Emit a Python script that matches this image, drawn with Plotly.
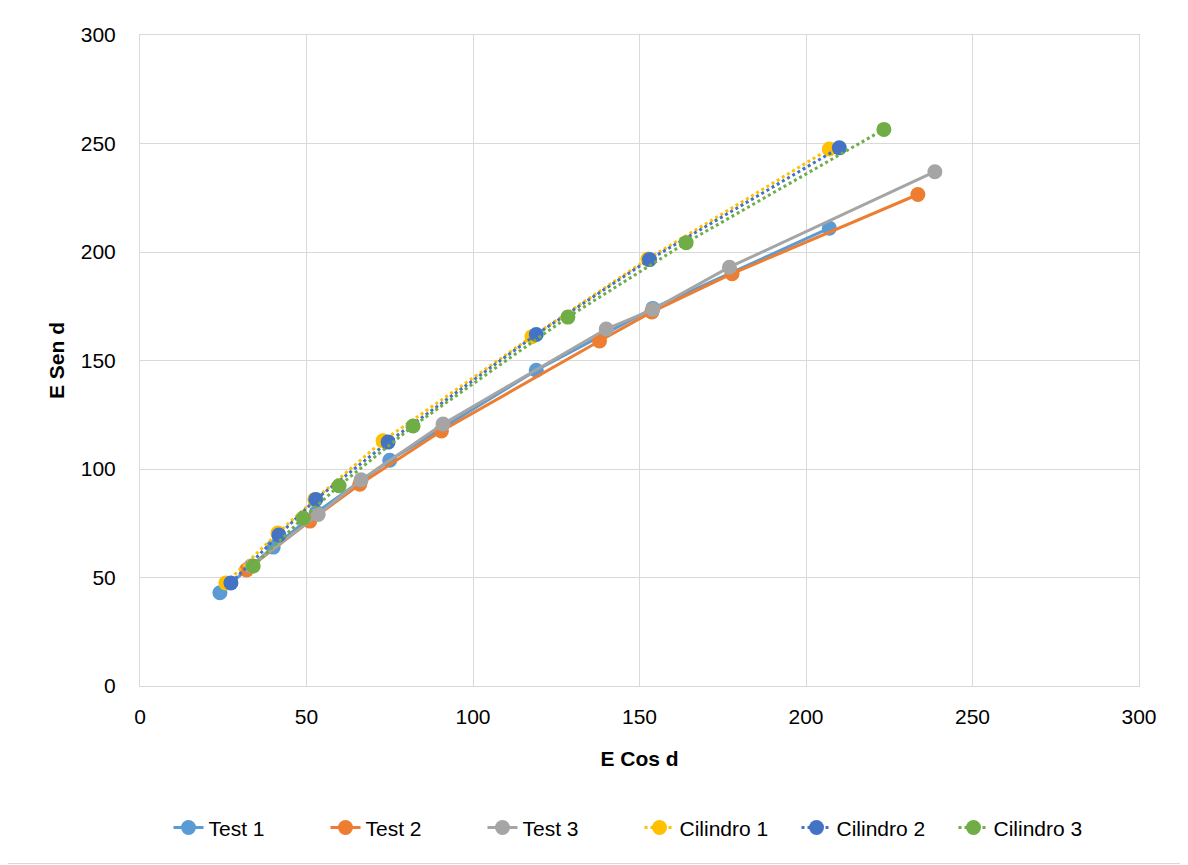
import plotly.graph_objects as go

test1_x = [24, 40, 53, 75, 119, 154, 207]
test1_y = [43, 64, 80, 104, 145.5, 174, 211]
test2_x = [32, 51, 66, 90.5, 138, 153.7, 177.8, 233.6]
test2_y = [53.5, 76, 93, 117.5, 159, 172.4, 190, 226.5]
test3_x = [33.3, 53.5, 66.4, 91, 140, 154, 177, 238.7]
test3_y = [55.3, 79, 95, 120.7, 164.5, 173.5, 193, 237]
cil1_x = [25.8, 41.4, 52.5, 73, 117.7, 152.5, 207]
cil1_y = [47.5, 70.5, 86, 113, 161, 196.8, 247.5]
cil2_x = [27.3, 41.7, 52.8, 74.5, 119, 153, 210]
cil2_y = [47.5, 69.6, 86, 112.4, 162, 196.5, 248]
cil3_x = [34, 49, 59.8, 82, 128.5, 164, 223.4]
cil3_y = [55.3, 77.4, 92.3, 119.8, 170, 204.3, 256.5]

font_fam = "Liberation Sans Narrow, Arial Narrow, Liberation Sans, Arial"

series = [
    ("Test 1", test1_x, test1_y, "#5B9BD5", "solid"),
    ("Test 2", test2_x, test2_y, "#ED7D31", "solid"),
    ("Test 3", test3_x, test3_y, "#A5A5A5", "solid"),
    ("Cilindro 1", cil1_x, cil1_y, "#FFC000", "dot"),
    ("Cilindro 2", cil2_x, cil2_y, "#4472C4", "dot"),
    ("Cilindro 3", cil3_x, cil3_y, "#70AD47", "dot"),
]

fig = go.Figure()
for name, xs, ys, col, dash in series:
    fig.add_trace(go.Scatter(
        x=xs, y=ys, name=name, mode="lines+markers",
        line=dict(color=col, width=3, dash=dash),
        marker=dict(color=col, size=15, line=dict(width=0)),
    ))

axis_common = dict(
    range=[0, 300], dtick=50, showgrid=True, gridcolor="#D9D9D9", gridwidth=1,
    showline=True, linecolor="#D9D9D9", linewidth=1, mirror=True,
    zeroline=False, ticks="", tickfont=dict(family=font_fam, size=21, color="#000000"),
)

W, H = 1180, 857
L, R, T, B = 132, 49, 27, 179
pw, ph = W - L - R, H - T - B

fig.update_layout(
    width=W, height=H,
    paper_bgcolor="white", plot_bgcolor="white",
    margin=dict(l=L, r=R, t=T, b=B),
    xaxis=dict(**axis_common, ticklabelstandoff=12,
               title=dict(text="<b>E Cos d</b>", font=dict(family=font_fam, size=21, color="#000000"), standoff=24)),
    yaxis=dict(**axis_common, ticklabelstandoff=19,
               title=dict(text="<b>E Sen d</b>", font=dict(family=font_fam, size=21, color="#000000"), standoff=10)),
    legend=dict(orientation="h", x=0.5, xanchor="center", y=-0.218, yanchor="middle",
                font=dict(family=font_fam, size=21, color="#000000"),
                entrywidth=112, entrywidthmode="pixels",
                traceorder="normal"),
    showlegend=True,
    shapes=[
        dict(type="line", xref="paper", yref="paper",
             x0=(W - 1.5 - L) / pw, x1=(W - 1.5 - L) / pw, y0=-(B) / ph, y1=(ph + T) / ph,
             line=dict(color="#D9D9D9", width=1), layer="below"),
        dict(type="line", xref="paper", yref="paper",
             x0=-L / pw, x1=(W - L) / pw, y0=-(B - 1.5) / ph, y1=-(B - 1.5) / ph,
             line=dict(color="#D9D9D9", width=1), layer="below"),
    ],
)

fig.write_html("out.html")
